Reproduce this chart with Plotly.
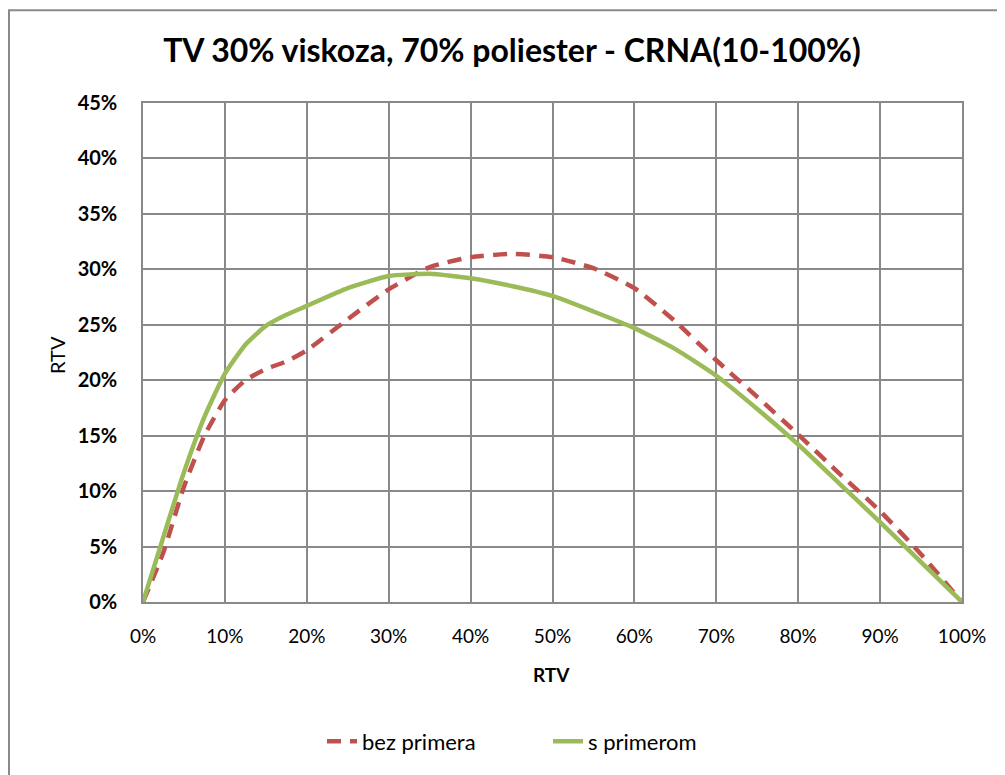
import plotly.graph_objects as go

x_vals = [0, 0.025, 0.05, 0.075, 0.10, 0.125, 0.15, 0.175, 0.20, 0.25, 0.30, 0.35, 0.40,
          0.45, 0.50, 0.55, 0.60, 0.65, 0.70, 0.75, 0.80, 0.85, 0.90, 0.95, 1.00]
bez_primera = [0, 0.045, 0.104, 0.150, 0.182, 0.200, 0.210, 0.217, 0.227, 0.255, 0.282, 0.302, 0.311,
               0.314, 0.311, 0.301, 0.283, 0.253, 0.218, 0.185, 0.151, 0.116, 0.082, 0.043, 0]
s_primerom = [0, 0.059, 0.117, 0.167, 0.206, 0.232, 0.249, 0.259, 0.267, 0.283, 0.294, 0.296, 0.292,
              0.285, 0.276, 0.262, 0.247, 0.228, 0.204, 0.174, 0.142, 0.107, 0.072, 0.036, 0]

title_text = "TV 30% viskoza, 70% poliester - CRNA(10-100%)"
x_title = "RTV"
y_title = "RTV"
x_ticks = [i / 10 for i in range(11)]
y_ticks = [i / 20 for i in range(10)]

FONT = "Lato"
GRID = "#898989"

fig = go.Figure()
fig.add_trace(go.Scatter(x=x_vals, y=bez_primera, mode="lines", name="bez primera",
                         line=dict(color="#C0504D", width=4.5, dash="14px,9px", shape="spline", smoothing=0.5)))
fig.add_trace(go.Scatter(x=x_vals, y=s_primerom, mode="lines", name="s primerom",
                         line=dict(color="#9BBB59", width=4.5, shape="spline", smoothing=0.5)))

# the page body adds an 8px offset; figure sized to fill the window
W, H = 997, 767
l, r, t, b = 135, 43, 95, 171

def px(xs):  # screen x -> paper x
    return (xs - 143) / 819

def py(ys):  # screen y -> paper y
    return (604 - ys) / 501

fig.update_layout(
    width=W, height=H,
    margin=dict(l=l, r=r, t=t, b=b),
    paper_bgcolor="white", plot_bgcolor="white",
    title=dict(text="<b>" + title_text + "</b>", xref="container", x=(512 - 8) / W, xanchor="center",
               yref="container", y=1 - (51 - 8) / H, yanchor="middle",
               font=dict(family=FONT, size=32, color="black")),
    xaxis=dict(range=[0, 1], tickvals=x_ticks, tickformat=".0%",
               showgrid=True, gridcolor=GRID, gridwidth=1.5,
               showline=True, linecolor=GRID, linewidth=1.5, mirror=True,
               zeroline=False, ticks="", ticklen=0, ticklabelstandoff=16,
               tickfont=dict(family=FONT, size=19, color="black")),
    yaxis=dict(range=[0, 0.45], tickvals=y_ticks, tickformat=".0%",
               showgrid=True, gridcolor=GRID, gridwidth=1.5,
               showline=True, linecolor=GRID, linewidth=1.5, mirror=True,
               zeroline=False, ticks="", ticklen=0, ticklabelstandoff=20,
               tickfont=dict(family=FONT, size=20, color="black", weight="bold")),
    legend=dict(orientation="h", x=px(322), xanchor="left", y=py(744), yanchor="middle",
                font=dict(family=FONT, size=22, color="black"), entrywidth=181,
                bgcolor="rgba(0,0,0,0)"),
    annotations=[
        dict(text="<b>" + x_title + "</b>", xref="paper", yref="paper", x=px(551), y=py(677),
             xanchor="center", yanchor="middle", showarrow=False,
             font=dict(family=FONT, size=19, color="black")),
        dict(text=y_title, xref="paper", yref="paper", x=px(57), y=py(356), textangle=-90,
             xanchor="center", yanchor="middle", showarrow=False,
             font=dict(family=FONT, size=20, color="black")),
    ],
    shapes=[dict(type="rect", xref="paper", yref="paper",
                 x0=px(9), x1=px(1030), y0=py(800), y1=py(10),
                 line=dict(color="#8a8a8a", width=2), layer="below")],
)

fig.write_html("out.html")
